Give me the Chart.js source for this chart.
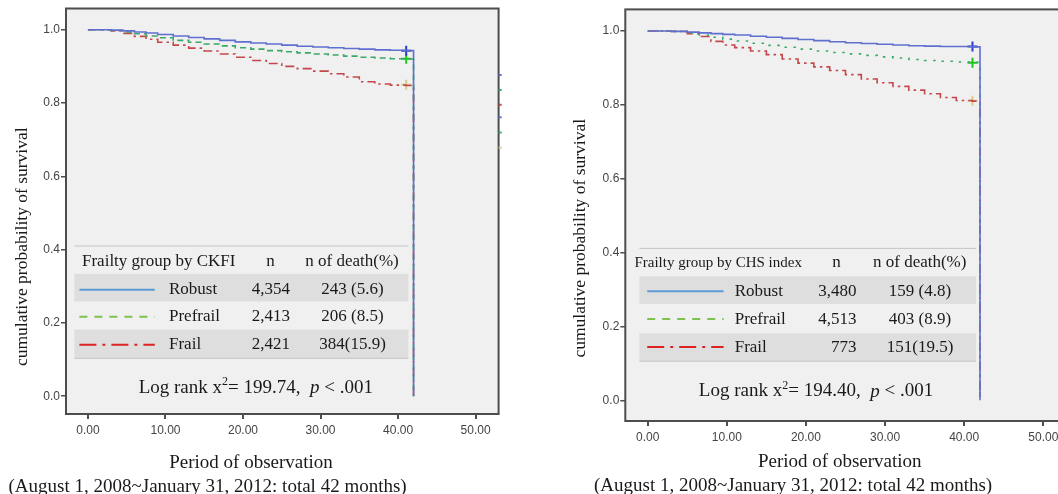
<!DOCTYPE html>
<html>
<head>
<meta charset="utf-8">
<script src="https://cdn.jsdelivr.net/npm/chart.js@4"></script>
<style>
  body { margin: 0; width: 1058px; height: 494px; overflow: hidden; background: #fff; position: relative; }
  canvas { position: absolute; top: 0; }
</style>
</head>
<body>
<canvas id="ckfi" width="530" height="494" style="left:0"></canvas>
<canvas id="chs" width="545" height="494" style="left:530px"></canvas>
<script>
// ---- data ----
const groups = ['Robust', 'Prefrail', 'Frail'];
const xTicks = [0, 10, 20, 30, 40, 50];
const yTicks = [0, 0.2, 0.4, 0.6, 0.8, 1.0];

// left panel: CKFI
const ckfiTime     = [0, 3, 4.5, 6, 7.5, 9, 11, 13, 15, 17, 19, 21, 23, 25, 27, 29, 31, 33, 35, 37, 39, 41, 42];
const ckfiRobust   = [1.0, 0.999, 0.997, 0.994, 0.991, 0.987, 0.983, 0.979, 0.975, 0.971, 0.967, 0.964, 0.961, 0.958, 0.955, 0.953, 0.951, 0.949, 0.947, 0.945, 0.944, 0.943, 0];
const ckfiPrefrail = [1.0, 0.998, 0.994, 0.989, 0.983, 0.978, 0.971, 0.966, 0.961, 0.956, 0.951, 0.947, 0.943, 0.940, 0.937, 0.934, 0.931, 0.928, 0.925, 0.923, 0.921, 0.920, 0];
const ckfiFrail    = [1.0, 0.997, 0.990, 0.982, 0.974, 0.966, 0.958, 0.950, 0.942, 0.934, 0.925, 0.916, 0.908, 0.900, 0.894, 0.887, 0.880, 0.871, 0.858, 0.852, 0.849, 0.848, 0];
const ckfiCensor   = [0.943, 0.921, 0.850];
const ckfiN        = ['4,354', '2,413', '2,421'];
const ckfiDeaths   = ['243 (5.6)', '206 (8.5)', '384(15.9)'];
const ckfiChi      = '199.74';

// right panel: CHS index
const chsTime     = [0, 3, 5, 6.5, 8, 9.5, 11, 13, 15, 17, 19, 21, 23, 25, 27, 29, 31, 33, 35, 37, 39, 41, 42];
const chsRobust   = [1.0, 0.999, 0.997, 0.995, 0.993, 0.991, 0.989, 0.986, 0.983, 0.980, 0.977, 0.974, 0.971, 0.968, 0.966, 0.964, 0.962, 0.960, 0.959, 0.958, 0.958, 0.957, 0];
const chsPrefrail = [1.0, 0.999, 0.994, 0.989, 0.983, 0.978, 0.973, 0.967, 0.961, 0.956, 0.951, 0.946, 0.942, 0.938, 0.934, 0.930, 0.927, 0.923, 0.920, 0.918, 0.916, 0.915, 0];
const chsFrail    = [1.0, 0.999, 0.993, 0.985, 0.972, 0.962, 0.955, 0.946, 0.936, 0.924, 0.913, 0.903, 0.893, 0.882, 0.870, 0.860, 0.850, 0.840, 0.830, 0.820, 0.812, 0.810, 0];
const chsCensor   = [0.958, 0.914, 0.811];
const chsN        = ['3,480', '4,513', '773'];
const chsDeaths   = ['159 (4.8)', '403 (8.9)', '151(19.5)'];
const chsChi      = '194.40';

const censorTime = 41.05;

// ---- styles ----
const serif = "'Liberation Serif', 'Times New Roman', serif";
const sans = "'Liberation Sans', Arial, sans-serif";
const lineColors = ['#5f6fcf', '#3aa866', '#c4484b'];
const keyColors = ['#5b9bd5', '#7cc24e', '#dd2222'];
const censorColors = ['#2b3cc2', '#1fc41f', '#d9c98c'];
const keyDash = [[], [8, 7], [17, 6, 3, 6]];
// little coloured stubs left over on the right border of the left panel
const stubColors = ['#5f6fcf', '#3aa866', '#c4484b', '#5f6fcf', '#3aa866', '#d9c98c'];

function toPoints(xs, ys) {
	return xs.map((x, i) => ({x: x, y: ys[i]}));
}

const panelPlugin = {
	id: 'panel',
	beforeDraw(chart) {
		let a = chart.chartArea, ctx = chart.ctx;
		ctx.save();
		ctx.fillStyle = '#f0f0f0';
		ctx.fillRect(a.left, a.top, a.right - a.left, a.bottom - a.top);
		ctx.restore();
	},
	afterDraw(chart, args, o) {
		let a = chart.chartArea, ctx = chart.ctx;
		ctx.save();
		// frame
		ctx.strokeStyle = '#4d4d4d';
		ctx.lineWidth = 2;
		ctx.strokeRect(a.left, a.top, a.right - a.left, a.bottom - a.top);

		if (o.stubs) {
			o.stubs.forEach((y, i) => {
				ctx.fillStyle = stubColors[i];
				ctx.fillRect(a.right, y - 1, 3, 2);
			});
		}

		// key table
		ctx.fillStyle = '#dedede';
		ctx.fillRect(o.x0, o.shade[0][0], o.x1 - o.x0, o.shade[0][1] - o.shade[0][0]);
		ctx.fillRect(o.x0, o.shade[1][0], o.x1 - o.x0, o.shade[1][1] - o.shade[1][0]);
		ctx.strokeStyle = '#c4c4c4';
		ctx.lineWidth = 1;
		[o.topLine, o.bottomLine].forEach(y => {
			ctx.beginPath(); ctx.moveTo(o.x0, y); ctx.lineTo(o.x1, y); ctx.stroke();
		});

		ctx.fillStyle = '#1a1a1a';
		ctx.textBaseline = 'middle';
		ctx.font = o.headFont + 'px ' + serif;
		ctx.textAlign = 'left';
		ctx.fillText(o.title, o.headX, o.headY);
		ctx.font = '17px ' + serif;
		ctx.textAlign = 'center';
		ctx.fillText('n', o.nHeadX, o.headY);
		ctx.fillText('n of death(%)', o.deathHeadX, o.headY);

		groups.forEach((g, i) => {
			let y = o.rowY[i];
			ctx.save();
			ctx.strokeStyle = keyColors[i];
			ctx.lineWidth = 2;
			ctx.setLineDash(keyDash[i]);
			ctx.beginPath(); ctx.moveTo(o.sx0, y); ctx.lineTo(o.sx1, y); ctx.stroke();
			ctx.restore();
			ctx.textAlign = 'left';
			ctx.fillText(g, o.labelX, y);
			ctx.textAlign = 'right';
			ctx.fillText(o.n[i], o.nX, y);
			ctx.textAlign = 'center';
			ctx.fillText(o.deaths[i], o.deathX, y);
		});

		// log rank line
		let parts = [
			['Log rank x', '19px ' + serif, 0],
			['2', '12px ' + serif, -6],
			['= ' + o.chi + ',  ', '19px ' + serif, 0],
			['p', 'italic 19px ' + serif, 0],
			[' < .001', '19px ' + serif, 0]
		];
		let total = 0;
		parts.forEach(p => { ctx.font = p[1]; total += ctx.measureText(p[0]).width; });
		let x = o.logX - total / 2;
		ctx.textAlign = 'left';
		parts.forEach(p => {
			ctx.font = p[1];
			ctx.fillText(p[0], x, o.logY + p[2]);
			x += ctx.measureText(p[0]).width;
		});

		// axis titles
		ctx.font = '19px ' + serif;
		ctx.textAlign = 'center';
		ctx.fillText('Period of observation', o.xt1[0], o.xt1[1]);
		ctx.textAlign = 'left';
		ctx.fillText('(August 1, 2008~January 31, 2012: total 42 months)', o.xt2[0], o.xt2[1]);
		ctx.translate(o.yt[0], o.yt[1]);
		ctx.rotate(-Math.PI / 2);
		ctx.font = '17.5px ' + serif;
		ctx.textAlign = 'center';
		ctx.fillText('cumulative probability of survival', 0, 0);
		ctx.restore();
	}
};

function makeChart(id, time, series, censor, box, dots) {
	let datasets = series.map((s, i) => ({
		type: 'line',
		data: toPoints(time, s),
		borderColor: lineColors[i],
		borderWidth: 1.6,
		borderDash: i === 0 ? [] : (i === 1 ? (dots ? [2.5, 6.5] : [6, 4]) : [9, 4, 2.5, 4]),
		stepped: 'before',
		pointRadius: 0,
		fill: false
	}));
	censor.forEach((c, i) => {
		datasets.push({
			type: 'scatter',
			data: [{x: censorTime, y: c}],
			pointStyle: 'cross',
			pointRadius: 5,
			pointBorderWidth: 2,
			pointBorderColor: censorColors[i],
			pointBackgroundColor: censorColors[i],
			showLine: false
		});
	});
	return new Chart(document.getElementById(id), {
		type: 'line',
		data: {datasets: datasets},
		options: {
			responsive: false,
			animation: false,
			devicePixelRatio: 1,
			layout: {padding: {top: box.padTop, right: box.padRight, left: 0, bottom: 0}},
			plugins: {
				legend: {display: false},
				tooltip: {enabled: false},
				panel: box.panel
			},
			scales: {
				x: {
					type: 'linear',
					min: -2.83,
					max: 52.97,
					afterBuildTicks: s => { s.ticks = xTicks.map(v => ({value: v})); },
					afterFit: s => { s.height = box.xHeight; s.paddingLeft = 0; s.paddingRight = 0; },
					ticks: {
						callback: v => v.toFixed(2),
						font: {family: sans, size: 12},
						color: '#444',
						padding: 4,
						maxRotation: 0
					},
					grid: {drawOnChartArea: false, drawTicks: true, tickLength: 5, color: '#4d4d4d', lineWidth: 2},
					border: {display: false}
				},
				y: {
					min: box.yMin,
					max: box.yMax,
					afterBuildTicks: s => { s.ticks = yTicks.map(v => ({value: v})); },
					afterFit: s => { s.width = box.yWidth; s.paddingTop = 0; s.paddingBottom = 0; },
					ticks: {
						callback: v => v.toFixed(1),
						font: {family: sans, size: 12},
						color: '#444',
						padding: 1
					},
					grid: {drawOnChartArea: false, drawTicks: true, tickLength: 5, color: '#4d4d4d', lineWidth: 1.5},
					border: {display: false}
				}
			}
		},
		plugins: [panelPlugin]
	});
}

makeChart('ckfi', ckfiTime, [ckfiRobust, ckfiPrefrail, ckfiFrail], ckfiCensor, {
	padTop: 8.5, padRight: 31.4, xHeight: 80, yWidth: 66, yMin: -0.0486, yMax: 1.058,
	panel: {
		title: 'Frailty group by CKFI', headFont: 17, n: ckfiN, deaths: ckfiDeaths, chi: ckfiChi,
		x0: 74.4, x1: 408.4, topLine: 246, bottomLine: 358.3,
		shade: [[273.8, 301.5], [329.6, 358.3]],
		headX: 82, headY: 262, nHeadX: 270.5, deathHeadX: 352,
		rowY: [289.7, 316.7, 344.8], sx0: 79.4, sx1: 154.8, labelX: 169, nX: 290, deathX: 352.5,
		logX: 255.8, logY: 387.7,
		xt1: [251, 463], xt2: [8.5, 486.8], yt: [22, 246.7],
		stubs: [75, 90, 104.8, 117.3, 132.5, 147.7]
	}
}, false);

makeChart('chs', chsTime, [chsRobust, chsPrefrail, chsFrail], chsCensor, {
	padTop: 9.4, padRight: 8.2, xHeight: 73, yWidth: 95.3, yMin: -0.056, yMax: 1.0585,
	panel: {
		title: 'Frailty group by CHS index', headFont: 15, n: chsN, deaths: chsDeaths, chi: chsChi,
		x0: 109.4, x1: 446.1, topLine: 248.4, bottomLine: 361.2,
		shade: [[276.4, 304], [333.3, 361.2]],
		headX: 104.4, headY: 262.6, nHeadX: 306.4, deathHeadX: 389.7,
		rowY: [291.2, 319.1, 347.1], sx0: 117.2, sx1: 193.6, labelX: 204.7, nX: 326.6, deathX: 390,
		logX: 286, logY: 391.5,
		xt1: [309.8, 462.2], xt2: [64, 485.8], yt: [50.7, 238.3]
	}
}, true);
</script>
</body>
</html>
